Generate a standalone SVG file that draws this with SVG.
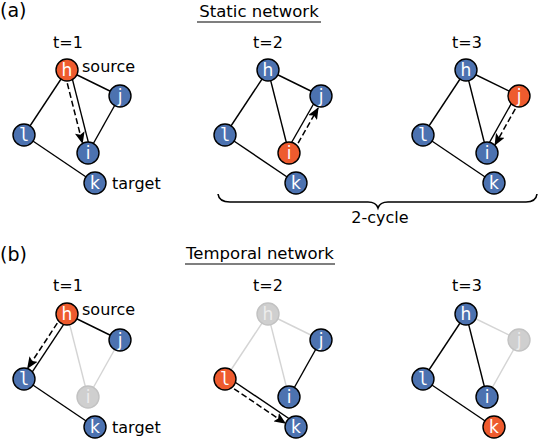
<svg xmlns="http://www.w3.org/2000/svg" width="540" height="439" viewBox="0 0 540 439">
<defs>
<marker id="ah" markerWidth="12" markerHeight="10" refX="11" refY="5" orient="auto" markerUnits="userSpaceOnUse">
<path d="M0,0 L12,5 L0,10 L2.5,5 Z" fill="#000"/>
</marker>
<style>
text{font-family:"DejaVu Sans","Liberation Sans",sans-serif;fill:#000}
.lbl{font-size:16px}
.hd{font-size:16.5px;text-anchor:middle}
.pl{font-size:19px}
.tt{font-size:16px;text-anchor:middle}
.e{stroke:#000;stroke-width:1.4;fill:none}
.eg{stroke:#d4d4d4;stroke-width:1.4;fill:none}
.d{stroke:#000;stroke-width:1.5;fill:none;stroke-dasharray:6,3;marker-end:url(#ah)}
.nb circle{fill:#4c72b0;stroke:#000;stroke-width:1.4}
.no circle{fill:#ee5b2e;stroke:#000;stroke-width:1.4}
.ng circle{fill:#cfcfcf;stroke:#c2c2c2;stroke-width:1.4}
.nb text,.no text{fill:#fff;font-size:17px;text-anchor:middle}
.ng text{fill:#ececec;font-size:17px;text-anchor:middle}
text.m{font-family:"DejaVu Sans Mono","Liberation Mono",monospace}
.br{stroke:#000;stroke-width:1.6;fill:none}
</style>
</defs>
<rect width="540" height="439" fill="#fff"/>

<text class="pl" x="0" y="17">(a)</text>
<text class="pl" x="0" y="261">(b)</text>
<text class="hd" x="259" y="17">Static network</text>
<line x1="197" y1="22" x2="321" y2="22" stroke="#000" stroke-width="1.2"/>
<text class="hd" x="260" y="259">Temporal network</text>
<line x1="185" y1="264" x2="335" y2="264" stroke="#000" stroke-width="1.2"/>
<text class="tt" x="68" y="48">t=1</text>
<text class="tt" x="268" y="48">t=2</text>
<text class="tt" x="467" y="48">t=3</text>
<text class="tt" x="68" y="291">t=1</text>
<text class="tt" x="268" y="291">t=2</text>
<text class="tt" x="467" y="291">t=3</text>
<text class="lbl" x="82" y="72">source</text>
<text class="lbl" x="112" y="189">target</text>
<text class="lbl" x="82" y="315">source</text>
<text class="lbl" x="112" y="433">target</text>
<path class="br" d="M218,194 Q219,202 230,202 L368,202 Q376,202 378,208 Q380,202 388,202 L526,202 Q536,202 537,194"/>
<text class="tt" x="380" y="223">2-cycle</text>

<g id="connectors">
<g transform="translate(0,0)">
<line class="e" x1="67" y1="70" x2="120" y2="96"/>
<line class="e" x1="67" y1="70" x2="24" y2="135"/>
<line class="e" x1="69.9" y1="69.3" x2="90.9" y2="152.3"/>
<line class="e" x1="120" y1="96" x2="88" y2="153"/>
<line class="e" x1="24" y1="135" x2="95" y2="183"/>
<line class="d" x1="67.3" y1="83.3" x2="82.4" y2="143.1"/>
</g>
<g transform="translate(201,0)">
<line class="e" x1="67" y1="70" x2="120" y2="96"/>
<line class="e" x1="67" y1="70" x2="24" y2="135"/>
<line class="e" x1="67" y1="70" x2="88" y2="153"/>
<line class="e" x1="85.4" y1="151.5" x2="117.4" y2="95.5"/>
<line class="e" x1="24" y1="135" x2="95" y2="183"/>
<line class="d" x1="97.1" y1="143.2" x2="117.1" y2="108"/>
</g>
<g transform="translate(399,0)">
<line class="e" x1="67" y1="70" x2="120" y2="96"/>
<line class="e" x1="67" y1="70" x2="24" y2="135"/>
<line class="e" x1="67" y1="70" x2="88" y2="153"/>
<line class="e" x1="117.4" y1="94.5" x2="85.4" y2="151.5"/>
<line class="e" x1="24" y1="135" x2="95" y2="183"/>
<line class="d" x1="116.3" y1="108.8" x2="96" y2="144.9"/>
</g>
<g transform="translate(0,244)">
<line class="eg" x1="67" y1="70" x2="88" y2="153"/>
<line class="eg" x1="120" y1="96" x2="88" y2="153"/>
<line class="e" x1="67" y1="70" x2="120" y2="96"/>
<line class="e" x1="69.5" y1="71.7" x2="26.5" y2="136.7"/>
<line class="e" x1="24" y1="135" x2="95" y2="183"/>
<line class="d" x1="57.3" y1="79.2" x2="27.6" y2="124.2"/>
</g>
<g transform="translate(201,244)">
<line class="eg" x1="67" y1="70" x2="120" y2="96"/>
<line class="eg" x1="67" y1="70" x2="24" y2="135"/>
<line class="eg" x1="67" y1="70" x2="88" y2="153"/>
<line class="e" x1="120" y1="96" x2="88" y2="153"/>
<line class="e" x1="25.7" y1="132.5" x2="96.7" y2="180.5"/>
<line class="d" x1="33.1" y1="144.8" x2="84.2" y2="179.3"/>
</g>
<g transform="translate(399,244)">
<line class="eg" x1="67" y1="70" x2="120" y2="96"/>
<line class="eg" x1="120" y1="96" x2="88" y2="153"/>
<line class="e" x1="67" y1="70" x2="24" y2="135"/>
<line class="e" x1="67" y1="70" x2="88" y2="153"/>
<line class="e" x1="24" y1="135" x2="95" y2="183"/>
</g>
</g>

<g transform="translate(0,0)">
<g id="a1-h" class="no"><circle cx="67" cy="70" r="11"/><text x="67" y="76">h</text></g>
<g id="a1-j" class="nb"><circle cx="120" cy="96" r="11"/><text x="120" y="102">j</text></g>
<g id="a1-l" class="nb"><circle cx="24" cy="135" r="11"/><text class="m" x="24" y="141">l</text></g>
<g id="a1-i" class="nb"><circle cx="88" cy="153" r="11"/><text x="88" y="159">i</text></g>
<g id="a1-k" class="nb"><circle cx="95" cy="183" r="11"/><text x="95" y="189">k</text></g>
</g>
<g transform="translate(201,0)">
<g id="a2-h" class="nb"><circle cx="67" cy="70" r="11"/><text x="67" y="76">h</text></g>
<g id="a2-j" class="nb"><circle cx="120" cy="96" r="11"/><text x="120" y="102">j</text></g>
<g id="a2-l" class="nb"><circle cx="24" cy="135" r="11"/><text class="m" x="24" y="141">l</text></g>
<g id="a2-i" class="no"><circle cx="88" cy="153" r="11"/><text x="88" y="159">i</text></g>
<g id="a2-k" class="nb"><circle cx="95" cy="183" r="11"/><text x="95" y="189">k</text></g>
</g>
<g transform="translate(399,0)">
<g id="a3-h" class="nb"><circle cx="67" cy="70" r="11"/><text x="67" y="76">h</text></g>
<g id="a3-j" class="no"><circle cx="120" cy="96" r="11"/><text x="120" y="102">j</text></g>
<g id="a3-l" class="nb"><circle cx="24" cy="135" r="11"/><text class="m" x="24" y="141">l</text></g>
<g id="a3-i" class="nb"><circle cx="88" cy="153" r="11"/><text x="88" y="159">i</text></g>
<g id="a3-k" class="nb"><circle cx="95" cy="183" r="11"/><text x="95" y="189">k</text></g>
</g>
<g transform="translate(0,244)">
<g id="b1-h" class="no"><circle cx="67" cy="70" r="11"/><text x="67" y="76">h</text></g>
<g id="b1-j" class="nb"><circle cx="120" cy="96" r="11"/><text x="120" y="102">j</text></g>
<g id="b1-l" class="nb"><circle cx="24" cy="135" r="11"/><text class="m" x="24" y="141">l</text></g>
<g id="b1-i" class="ng"><circle cx="88" cy="153" r="11"/><text x="88" y="159">i</text></g>
<g id="b1-k" class="nb"><circle cx="95" cy="183" r="11"/><text x="95" y="189">k</text></g>
</g>
<g transform="translate(201,244)">
<g id="b2-h" class="ng"><circle cx="67" cy="70" r="11"/><text x="67" y="76">h</text></g>
<g id="b2-j" class="nb"><circle cx="120" cy="96" r="11"/><text x="120" y="102">j</text></g>
<g id="b2-l" class="no"><circle cx="24" cy="135" r="11"/><text class="m" x="24" y="141">l</text></g>
<g id="b2-i" class="nb"><circle cx="88" cy="153" r="11"/><text x="88" y="159">i</text></g>
<g id="b2-k" class="nb"><circle cx="95" cy="183" r="11"/><text x="95" y="189">k</text></g>
</g>
<g transform="translate(399,244)">
<g id="b3-h" class="nb"><circle cx="67" cy="70" r="11"/><text x="67" y="76">h</text></g>
<g id="b3-j" class="ng"><circle cx="120" cy="96" r="11"/><text x="120" y="102">j</text></g>
<g id="b3-l" class="nb"><circle cx="24" cy="135" r="11"/><text class="m" x="24" y="141">l</text></g>
<g id="b3-i" class="nb"><circle cx="88" cy="153" r="11"/><text x="88" y="159">i</text></g>
<g id="b3-k" class="no"><circle cx="95" cy="183" r="11"/><text x="95" y="189">k</text></g>
</g>
</svg>
